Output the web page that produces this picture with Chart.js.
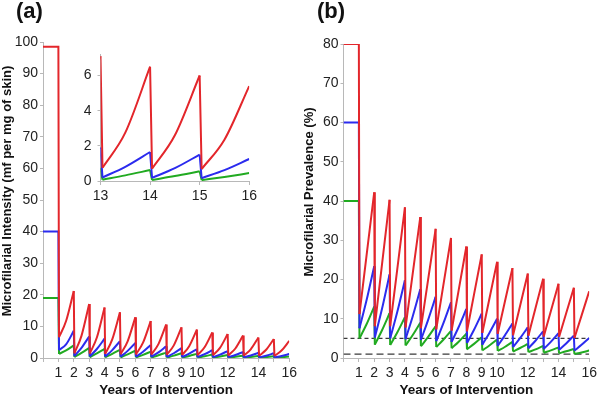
<!DOCTYPE html>
<html>
<head>
<meta charset="utf-8">
<script src="https://cdn.jsdelivr.net/npm/chart.js@4.4.1/dist/chart.umd.min.js"></script>
<style>
  body { margin: 0; background: #fff; }
  #wrap { position: relative; width: 600px; height: 398px; font-family: "Liberation Sans", Arial, sans-serif; }
  canvas { position: absolute; }
  .panel-label { position: absolute; top: 0; font-weight: bold; font-size: 22px; line-height: 22px; color: #111; }
</style>
</head>
<body>
<div id="wrap">
  <canvas id="intensityChart" width="300" height="398" style="left:0;top:0"></canvas>
  <canvas id="prevalenceChart" width="300" height="398" style="left:300px;top:0"></canvas>
  <canvas id="insetChart" width="190" height="160" style="left:70px;top:40px"></canvas>
  <div class="panel-label" style="left:16px">(a)</div>
  <div class="panel-label" style="left:317px">(b)</div>
</div>
<script>
// x axis labels that are printed (the other years only get a tick mark)
const shownYears = [1, 2, 3, 4, 5, 6, 7, 8, 9, 10, 12, 14, 16];
const insetYears = [13, 14, 15, 16];

// pre-intervention level, order: red, blue, green
const intensityStart = [98.5, 40, 19];
const prevalenceStart = [80, 60, 40];

// prevalence thresholds (dashed lines)
const thresholds = [5, 1];

// one row per treatment year (1..15): [trough just after treatment, value half way, peak before next treatment]
const intensityRed = [
  [6.6, 11.7, 21.2], [1.5, 7.0, 17.1], [1.4, 6.5, 16.0], [1.3, 5.9, 14.5], [1.2, 5.3, 12.9],
  [1.15, 4.85, 11.7], [1.1, 4.4, 10.6], [1.0, 4.0, 9.7], [0.95, 3.75, 9.0], [0.9, 3.4, 8.1],
  [0.85, 3.2, 7.6], [0.8, 3.0, 7.1], [0.75, 2.75, 6.5], [0.7, 2.6, 6.0], [0.68, 2.35, 5.4]
];
const intensityBlue = [
  [2.5, 4.3, 8.6], [0.6, 3.2, 6.8], [0.5, 2.85, 6.1], [0.45, 2.5, 5.3], [0.4, 2.25, 4.8],
  [0.38, 1.95, 4.1], [0.35, 1.76, 3.7], [0.32, 1.5, 3.1], [0.3, 1.35, 2.8], [0.28, 1.2, 2.5],
  [0.25, 1.07, 2.2], [0.22, 0.93, 1.9], [0.2, 0.81, 1.65], [0.18, 0.73, 1.5], [0.16, 0.62, 1.25]
];
const intensityGreen = [
  [1.3, 2.4, 4.0], [0.3, 1.6, 3.2], [0.25, 1.45, 2.9], [0.22, 1.3, 2.6], [0.2, 1.15, 2.3],
  [0.18, 1.0, 2.0], [0.15, 0.85, 1.7], [0.13, 0.75, 1.5], [0.12, 0.65, 1.3], [0.1, 0.55, 1.1],
  [0.09, 0.48, 0.95], [0.08, 0.37, 0.72], [0.07, 0.32, 0.62], [0.06, 0.28, 0.55], [0.05, 0.23, 0.45]
];

const prevalenceRed = [
  [11.2, 26.1, 42.2], [8.1, 23.6, 40.3], [8.1, 22.6, 38.4], [7.8, 21.3, 35.9], [7.6, 19.7, 32.9],
  [7.3, 18.5, 30.6], [7.0, 17.3, 28.4], [6.8, 16.2, 26.4], [6.4, 15.1, 24.5], [6.2, 14.2, 22.9],
  [5.8, 13.3, 21.5], [5.7, 12.7, 20.2], [5.5, 11.9, 18.9], [5.4, 11.4, 17.9], [5.1, 10.8, 17.0]
];
const prevalenceBlue = [
  [7.6, 14.7, 23.4], [5.2, 12.4, 21.3], [5.0, 11.7, 19.8], [4.8, 10.5, 17.5], [4.6, 9.6, 15.6],
  [4.3, 8.8, 14.2], [4.1, 7.9, 12.5], [3.8, 7.2, 11.3], [3.4, 6.4, 10.0], [3.1, 5.7, 8.8],
  [2.8, 5.05, 7.8], [2.5, 4.4, 6.8], [2.3, 4.1, 6.3], [2.1, 3.7, 5.7], [1.9, 3.35, 5.1]
];
const prevalenceGreen = [
  [5.0, 8.6, 13.1], [3.4, 7.0, 11.4], [3.3, 6.5, 10.4], [3.2, 5.8, 9.0], [3.0, 5.3, 8.1],
  [2.8, 4.65, 6.9], [2.5, 4.15, 6.2], [2.2, 3.6, 5.3], [1.95, 3.2, 4.7], [1.8, 2.8, 4.1],
  [1.65, 2.55, 3.6], [1.5, 2.2, 3.1], [1.35, 1.95, 2.7], [1.2, 1.7, 2.3], [1.0, 1.4, 1.9]
];

const lineColors = ['#e3262b', '#2b2bee', '#21aa21'];
const axisGray = '#b8b8b8';

Chart.defaults.font.family = '"Liberation Sans", Arial, sans-serif';
Chart.defaults.color = '#222';

// smooth rise between two treatments, broken at each treatment
function curvePoints(cycles) {
  const pts = [];
  cycles.forEach(function (c, i) {
    const year = i + 1;
    pts.push({ x: year + 0.04, y: c[0] });
    pts.push({ x: year + 0.5, y: c[1] });
    pts.push({ x: year + 1, y: c[2] });
    pts.push({ x: year + 1.02, y: null });
  });
  return pts;
}

// flat start and the sharp drop at every treatment
function dropPoints(start, cycles) {
  const pts = [{ x: 0, y: start }, { x: 1, y: start }];
  cycles.forEach(function (c, i) {
    const year = i + 1;
    if (i > 0) pts.push({ x: year, y: cycles[i - 1][2] });
    pts.push({ x: year + 0.04, y: c[0] });
    pts.push({ x: year + 0.05, y: null });
  });
  return pts;
}

function seriesDatasets(starts, cyclesList) {
  const sets = [];
  cyclesList.forEach(function (cycles, i) {
    sets.push({ data: curvePoints(cycles), borderColor: lineColors[i], cubicInterpolationMode: 'monotone' });
    sets.push({ data: dropPoints(starts[i], cycles), borderColor: lineColors[i], tension: 0 });
  });
  return sets;
}

function xScale(min, max, labels, height, titleText) {
  return {
    type: 'linear',
    min: min,
    max: max,
    afterFit: function (s) { s.height = height; },
    border: { color: axisGray },
    grid: { drawOnChartArea: false, tickLength: 4, color: axisGray },
    ticks: {
      stepSize: 1, autoSkip: false, maxRotation: 0, padding: 3,
      font: { size: 14 },
      callback: function (v) { return labels.includes(v) ? String(v) : ''; }
    },
    title: {
      display: !!titleText, text: titleText, color: '#111', padding: 0,
      font: { size: 13.5, weight: 'bold' }
    }
  };
}

function yScale(max, step, width, titleText, titlePad) {
  return {
    min: 0,
    max: max,
    afterFit: function (s) { s.width = width; },
    border: { color: axisGray },
    grid: { drawOnChartArea: false, tickLength: 3, color: axisGray },
    ticks: { stepSize: step, includeBounds: false, padding: titleText ? 2 : 6, font: { size: 14 } },
    title: {
      // leading spaces nudge the rotated title a little upwards, like the original
      display: !!titleText, text: '     ' + titleText, color: '#111', padding: { top: titlePad, bottom: 0 },
      font: { size: 13, weight: 'bold' }
    }
  };
}

function baseOptions(padding, scales) {
  return {
    responsive: false,
    animation: false,
    layout: { padding: padding },
    elements: { point: { radius: 0 }, line: { borderWidth: 2 } },
    plugins: { legend: { display: false }, tooltip: { enabled: false } },
    scales: scales
  };
}

new Chart(document.getElementById('intensityChart'), {
  type: 'line',
  data: { datasets: seriesDatasets(intensityStart, [intensityRed, intensityBlue, intensityGreen]) },
  options: baseOptions({ top: 42, right: 9, left: 0, bottom: 0 }, {
    x: xScale(0, 16, shownYears, 40, 'Years of Intervention'),
    y: yScale(100, 10, 43, 'Microfilarial Intensity (mf per mg of skin)', 0)
  })
});

const thresholdSets = thresholds.map(function (t, i) {
  return {
    data: [{ x: 0, y: t }, { x: 16, y: t }],
    borderColor: '#3a3a3a',
    borderWidth: 1.2,
    borderDash: i === 0 ? [4, 3] : [7, 4],
    tension: 0
  };
});

new Chart(document.getElementById('prevalenceChart'), {
  type: 'line',
  data: { datasets: seriesDatasets(prevalenceStart, [prevalenceRed, prevalenceBlue, prevalenceGreen]).concat(thresholdSets) },
  options: baseOptions({ top: 44, right: 9, left: 0, bottom: 0 }, {
    x: xScale(0, 16, shownYears, 40, 'Years of Intervention'),
    y: yScale(80, 10, 43.5, 'Microfilarial Prevalence (%)', 2)
  })
});

new Chart(document.getElementById('insetChart'), {
  type: 'line',
  data: { datasets: seriesDatasets(intensityStart, [intensityRed, intensityBlue, intensityGreen]) },
  options: baseOptions({ top: 5, right: 9.5, left: 0, bottom: 0 }, {
    x: xScale(13, 16, insetYears, 19, ''),
    y: yScale(7.2, 2, 30.5, '', 0)
  })
});
</script>
</body>
</html>
